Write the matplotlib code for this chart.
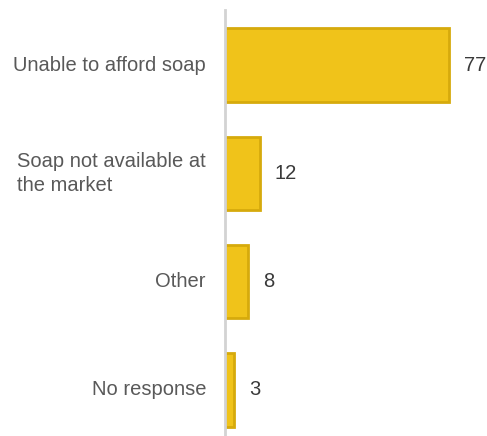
import matplotlib.pyplot as plt

# reasons for not having soap, percent of respondents
labels = ["Unable to afford soap", "Soap not available at\nthe market", "Other", "No response"]
values = [77, 12, 8, 3]

W, H = 487, 436
fig = plt.figure(figsize=(W / 100, H / 100), dpi=100)
ax = fig.add_axes([225 / W, 0, 262 / W, 426 / H])

pos = list(range(len(values)))
ax.barh(pos, values, height=0.68, color="#F0C31A", edgecolor="#D6AA0C", linewidth=2)
ax.set_xlim(0, 262 / 2.91)
ax.set_ylim(3.425, -0.508)

for s in ["top", "right", "bottom"]:
    ax.spines[s].set_visible(False)
ax.spines["left"].set_color("#D3D3D3")
ax.spines["left"].set_linewidth(2)
ax.set_xticks([])
ax.set_yticks([])

fs = 14.5
for p, lab, v in zip(pos, labels, values):
    ax.annotate(lab, (0, p), xytext=(-19, 0), textcoords="offset pixels",
                ha="right", va="center", multialignment="left", linespacing=1.35,
                fontsize=fs, color="#595959", family="Liberation Sans")
    ax.annotate(str(v), (v, p), xytext=(15, 0), textcoords="offset pixels",
                ha="left", va="center", fontsize=fs, color="#3A3A3A",
                family="Liberation Sans")

fig.savefig("out.png", dpi=100)
